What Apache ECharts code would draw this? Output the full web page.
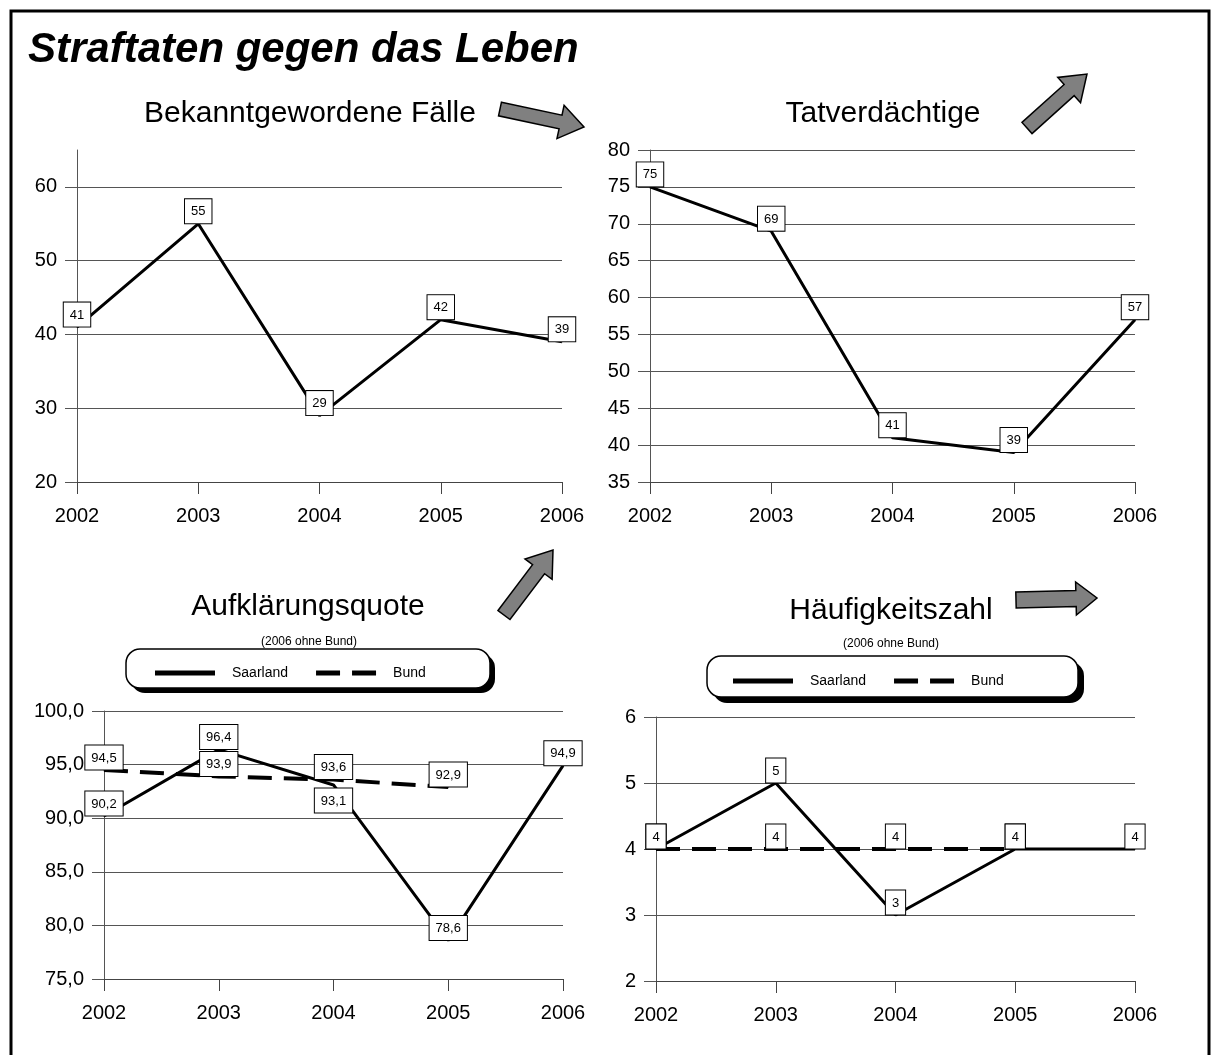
<!DOCTYPE html>
<html>
<head>
<meta charset="utf-8">
<title>Straftaten gegen das Leben</title>
<script src="https://cdn.jsdelivr.net/npm/echarts@6.0.0/dist/echarts.min.js"></script>
<style>
html, body { margin: 0; padding: 0; background: #fff; }
#main { width: 1212px; height: 1055px; }
</style>
</head>
<body>
<div id="main"></div>
<script>
// Daten
var years = ['2002', '2003', '2004', '2005', '2006'];

var faelle = [41, 55, 29, 42, 39];
var faelleTicks = [20, 30, 40, 50, 60];

var tatverdaechtige = [75, 69, 41, 39, 57];

var aqSaarland = [90.2, 96.4, 93.1, 78.6, 94.9];
var aqBund = [94.5, 93.9, 93.6, 92.9, null];

var hzSaarland = [4, 5, 3, 4, 4];
var hzBund = [4, 4, 4, 4, null];

var FONT = "'Liberation Sans', Arial, sans-serif";
var SOLID_ICON = 'path://M0,0H60V5H0Z';
var DASH_ICON = 'path://M0,0H24V5H0ZM36,0H60V5H36Z';

var myChart = echarts.init(document.getElementById('main'));

function comma(v) {
    return v.toFixed(1).replace('.', ',');
}

function boxLabel(fmt) {
    return {
        show: true,
        position: 'top',
        distance: 0,
        color: '#000',
        fontSize: 13,
        fontFamily: FONT,
        backgroundColor: '#fff',
        borderColor: '#000',
        borderWidth: 1,
        padding: [6, 6, 5, 6],
        formatter: fmt
    };
}

function xAxis(idx) {
    return {
        type: 'category',
        gridIndex: idx,
        data: years,
        boundaryGap: false,
        axisLine: { show: true, lineStyle: { color: '#444', width: 1 } },
        axisTick: { show: true, length: 12, lineStyle: { color: '#444' } },
        axisLabel: { color: '#000', fontSize: 20, fontFamily: FONT, margin: 24 },
        splitLine: { show: false }
    };
}

function yAxis(idx, min, max, interval, fmt, ticks) {
    var ax = {
        type: 'value',
        gridIndex: idx,
        min: min,
        max: max,
        interval: interval,
        axisLine: { show: true, lineStyle: { color: '#555', width: 1 } },
        axisTick: { show: true, length: 12, lineStyle: { color: '#555' } },
        axisLabel: { color: '#000', fontSize: 20, fontFamily: FONT, margin: 20, formatter: fmt },
        splitLine: { show: true, lineStyle: { color: '#555', width: 1 } }
    };
    if (ticks) {
        ax.axisTick.customValues = ticks;
        ax.axisLabel.customValues = ticks;
    }
    return ax;
}

function lineSeries(name, idx, data, dashed, fmt) {
    return {
        type: 'line',
        name: name,
        xAxisIndex: idx,
        yAxisIndex: idx,
        data: data,
        symbol: 'rect',
        symbolSize: 1,
        connectNulls: false,
        itemStyle: { color: '#000' },
        lineStyle: dashed ? { color: '#000', width: 4, type: [24, 12] } : { color: '#000', width: 3 },
        label: boxLabel(fmt),
        silent: true
    };
}

// Pfeile (Dekoration)
var arrows = [
    { tail: [500, 109], tip: [584, 127], shaft: 14, head: 34, headLen: 24 },
    { tail: [1027, 128], tip: [1087, 74], shaft: 15, head: 34, headLen: 24 },
    { tail: [504, 615], tip: [553, 550], shaft: 15, head: 34, headLen: 24 },
    { tail: [1016, 600], tip: [1097, 598], shaft: 16, head: 33, headLen: 21 }
];

function arrowPoints(a) {
    var dx = a.tip[0] - a.tail[0], dy = a.tip[1] - a.tail[1];
    var len = Math.sqrt(dx * dx + dy * dy);
    var ux = dx / len, uy = dy / len, px = -uy, py = ux;
    var b = len - a.headLen;
    var local = [[0, -a.shaft / 2], [b, -a.shaft / 2], [b, -a.head / 2], [len, 0],
                 [b, a.head / 2], [b, a.shaft / 2], [0, a.shaft / 2]];
    return local.map(function (p) {
        return [a.tail[0] + ux * p[0] + px * p[1], a.tail[1] + uy * p[0] + py * p[1]];
    });
}

function text(str, x, y, size, extra) {
    var st = { text: str, fontSize: size, fontFamily: FONT, fill: '#000', align: 'center', verticalAlign: 'middle' };
    for (var k in extra) st[k] = extra[k];
    return { type: 'text', x: x, y: y, z: 5, style: st };
}

function legendBox(x, y, w, h, off) {
    return [
        { type: 'rect', z: 1, shape: { x: x + off, y: y + off, width: w, height: h, r: 14 }, style: { fill: '#000' } },
        { type: 'rect', z: 2, shape: { x: x, y: y, width: w, height: h, r: 14 }, style: { fill: '#fff', stroke: '#000', lineWidth: 1.5 } }
    ];
}

var graphics = [
    { type: 'rect', z: 0, shape: { x: 11, y: 11, width: 1198, height: 1100 }, style: { fill: 'none', stroke: '#000', lineWidth: 3 } },
    text('Straftaten gegen das Leben', 28, 50, 42, { align: 'left', fontWeight: 'bold', fontStyle: 'italic' }),
    text('Bekanntgewordene Fälle', 310, 114, 30),
    text('Tatverdächtige', 883, 114, 30),
    text('Aufklärungsquote', 308, 607, 30),
    text('(2006 ohne Bund)', 309, 642, 12),
    text('Häufigkeitszahl', 891, 611, 30),
    text('(2006 ohne Bund)', 891, 644, 12)
].concat(legendBox(126, 649, 364, 39, 5), legendBox(707, 656, 371, 41, 6));

arrows.forEach(function (a) {
    graphics.push({
        type: 'polygon', z: 3,
        shape: { points: arrowPoints(a) },
        style: { fill: '#808080', stroke: '#000', lineWidth: 1.5 }
    });
});

function legendOpt(left, top) {
    return {
        left: left, top: top, padding: 0, z: 10,
        orient: 'horizontal',
        itemWidth: 60, itemHeight: 5, itemGap: 28,
        selectedMode: false,
        itemStyle: { color: '#000' },
        textStyle: { color: '#000', fontSize: 14, fontFamily: FONT, padding: [0, 0, 0, 12] },
        data: [{ name: 'Saarland', icon: SOLID_ICON }, { name: 'Bund', icon: DASH_ICON }]
    };
}

var option = {
    animation: false,
    backgroundColor: '#fff',
    textStyle: { fontFamily: FONT },
    grid: [
        { left: 77, top: 150, width: 485, height: 332 },
        { left: 650, top: 150, width: 485, height: 332 },
        { left: 104, top: 711, width: 459, height: 268 },
        { left: 656, top: 717, width: 479, height: 264 }
    ],
    xAxis: [xAxis(0), xAxis(1), xAxis(2), xAxis(3)],
    yAxis: [
        yAxis(0, 20, 65, 10, null, faelleTicks),
        yAxis(1, 35, 80, 5),
        yAxis(2, 75, 100, 5, function (v) { return comma(v); }),
        yAxis(3, 2, 6, 1)
    ],
    legend: [legendOpt(155, 666), legendOpt(733, 674)],
    graphic: graphics,
    series: [
        lineSeries('Fälle', 0, faelle, false),
        lineSeries('Tatverdächtige', 1, tatverdaechtige, false),
        lineSeries('Bund', 2, aqBund, true, function (p) { return comma(p.value); }),
        lineSeries('Saarland', 2, aqSaarland.map(function (v, i) {
            return i === 2 ? { value: v, label: { position: 'bottom', distance: 3 } } : v;
        }), false, function (p) { return comma(p.value); }),
        lineSeries('Bund', 3, hzBund, true),
        lineSeries('Saarland', 3, hzSaarland, false)
    ]
};

myChart.setOption(option);
</script>
</body>
</html>
